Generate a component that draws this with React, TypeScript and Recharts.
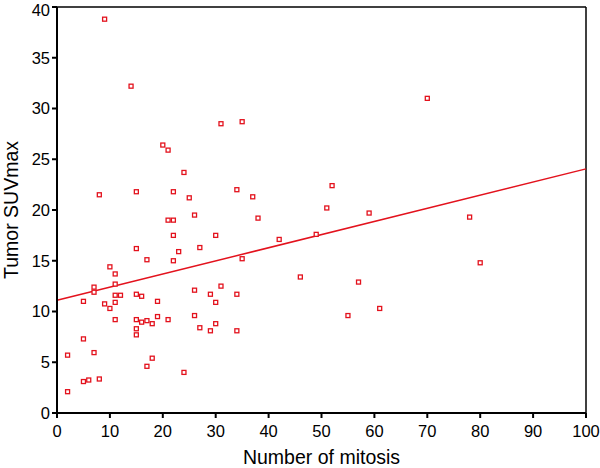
import { ScatterChart, Scatter, XAxis, YAxis, ReferenceLine } from "recharts";

const mitosis = [
  2, 2, 5, 5, 6, 8, 7, 5, 9, 10, 11, 11, 15, 15, 15, 16, 17, 18, 19, 19,
  21, 17, 18, 24, 26, 27, 29, 30, 34, 26, 31, 29, 34, 30, 7, 7, 11, 12, 15, 16,
  10, 11, 11, 15, 17, 22, 23, 27, 22, 21, 22, 26, 8, 15, 22, 25, 24, 20, 21, 14,
  9, 31, 35, 70, 34, 37, 38, 30, 42, 35, 46, 52, 51, 59, 78, 49, 57, 80, 61, 55,
];

const suvmax = [
  5.7, 2.1, 7.3, 3.1, 3.25, 3.35, 5.95, 11.0, 10.75, 10.3, 10.9, 9.2, 9.2, 8.3, 7.7, 8.95, 9.1, 8.8, 9.5, 11.0,
  9.2, 4.6, 5.4, 4.0, 9.6, 8.4, 8.1, 8.8, 8.1, 12.1, 12.5, 11.7, 11.7, 10.9, 12.4, 11.9, 11.6, 11.6, 11.7, 11.5,
  14.4, 13.7, 12.7, 16.2, 15.1, 15.0, 15.9, 16.3, 17.5, 19.0, 19.0, 19.5, 21.5, 21.8, 21.8, 21.2, 23.7, 26.4, 25.9, 32.2,
  38.8, 28.5, 28.7, 31.0, 22.0, 21.3, 19.2, 17.5, 17.1, 15.2, 13.4, 22.4, 20.2, 19.7, 19.3, 17.6, 12.9, 14.8, 10.3, 9.6,
];

// fit line end points
const fitX = [0, 100];
const fitY = [11.1, 24.05];

const xTicks = [0, 10, 20, 30, 40, 50, 60, 70, 80, 90, 100];
const yTicks = [0, 5, 10, 15, 20, 25, 30, 35, 40];

const points = mitosis.map((m, i) => ({ x: m, y: suvmax[i] }));
const RED = "#e3121d";
const FONT = "'Liberation Sans', Arial, sans-serif";

const SquareDot = (props: any) => {
  const { cx, cy } = props;
  return <rect x={cx - 2} y={cy - 2} width={4} height={4} fill="#fff" stroke={RED} strokeWidth={1.3} />;
};

// rotated y title, baseline on the right so the glyphs stay inside the page
const YTitle = () => (
  <text
    x={18}
    y={210}
    transform="rotate(-90 18 210)"
    textAnchor="middle"
    fill="#000"
    fontSize={19.5}
    fontFamily={FONT}
  >
    Tumor SUVmax
  </text>
);

export default function App() {
  return (
    <div style={{ position: "absolute", left: 0, top: 0, background: "#fff", fontFamily: FONT }}>
      <ScatterChart width={600} height={468} margin={{ top: 7, right: 14, bottom: 0, left: 0 }}>
        <XAxis
          type="number"
          dataKey="x"
          domain={[0, 100]}
          ticks={xTicks}
          height={55}
          stroke="#000"
          strokeWidth={2}
          tickSize={5}
          tickMargin={7}
          tick={{ fill: "#000", fontSize: 16.5, fontFamily: FONT }}
          label={{ value: "Number of mitosis", position: "insideBottom", offset: 4, fill: "#000", fontSize: 19.5, fontFamily: FONT }}
        />
        <YAxis
          type="number"
          dataKey="y"
          domain={[0, 40]}
          ticks={yTicks}
          width={57}
          stroke="#000"
          strokeWidth={2}
          tickSize={5}
          tickMargin={2}
          tick={{ fill: "#000", fontSize: 16.5, fontFamily: FONT }}
          label={<YTitle />}
        />
        <ReferenceLine y={40} stroke="#000" strokeWidth={1.5} />
        <ReferenceLine x={100} stroke="#000" strokeWidth={1.5} />
        <ReferenceLine
          segment={[
            { x: fitX[0], y: fitY[0] },
            { x: fitX[1], y: fitY[1] },
          ]}
          stroke={RED}
          strokeWidth={1.5}
        />
        <Scatter data={points} shape={<SquareDot />} isAnimationActive={false} />
      </ScatterChart>
    </div>
  );
}
